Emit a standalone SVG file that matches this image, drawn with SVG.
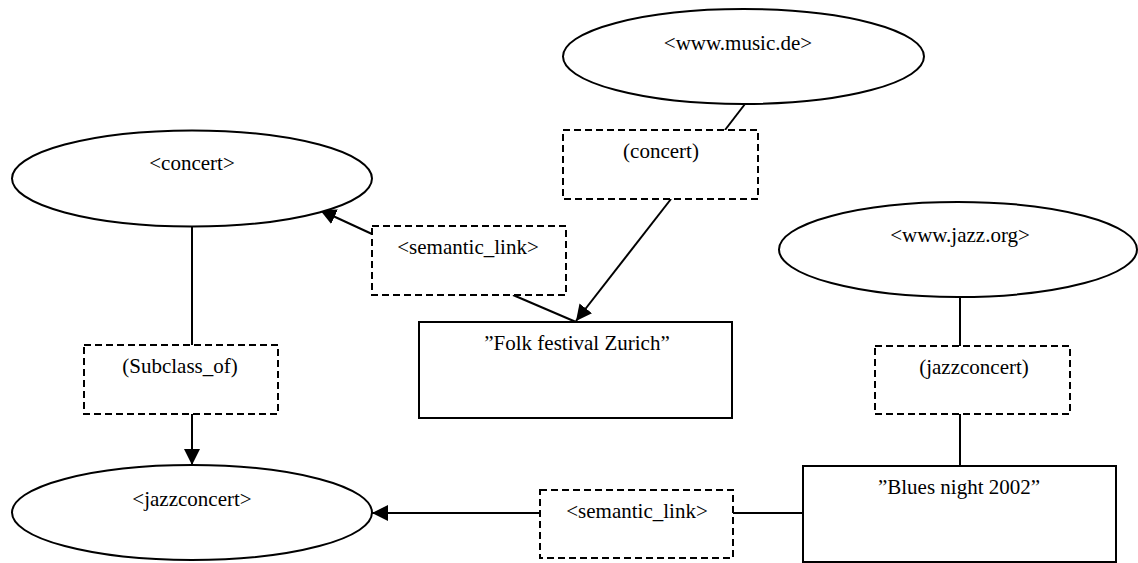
<svg xmlns="http://www.w3.org/2000/svg" width="1138" height="563" viewBox="0 0 1138 563">
  <style>
    text { font-family: "Liberation Serif", "Times New Roman", Times, serif; font-size: 21px; fill: #000; text-anchor: middle; }
    .res { fill: #fff; stroke: #000; stroke-width: 2; }
    .lit { fill: #fff; stroke: #000; stroke-width: 2; }
    .prop { fill: #fff; stroke: #000; stroke-width: 2; stroke-dasharray: 7 4; }
    .edge { fill: none; stroke: #000; stroke-width: 2; }
  </style>
  <defs>
    <marker id="arrowBig" viewBox="0 0 10 10" refX="10" refY="5" markerWidth="16" markerHeight="16" markerUnits="userSpaceOnUse" orient="auto">
      <path d="M0,0 L10,5 L0,10 z" fill="#000"/>
    </marker>
  </defs>

  <!-- connectors -->
  <g id="connectors">
    <line class="edge" x1="192" y1="226" x2="192" y2="345"/>
    <line class="edge" x1="192" y1="414" x2="192" y2="465" marker-end="url(#arrowBig)"/>
    <line class="edge" x1="372" y1="234" x2="320" y2="210" marker-end="url(#arrowBig)"/>
    <line class="edge" x1="513" y1="295" x2="576" y2="322"/>
    <line class="edge" x1="745" y1="104" x2="725" y2="130"/>
    <line class="edge" x1="671" y1="199" x2="576" y2="321" marker-end="url(#arrowBig)"/>
    <line class="edge" x1="960" y1="297" x2="960" y2="346"/>
    <line class="edge" x1="960" y1="414" x2="960" y2="466"/>
    <line class="edge" x1="803" y1="513" x2="733" y2="513"/>
    <line class="edge" x1="540" y1="513" x2="372" y2="513" marker-end="url(#arrowBig)"/>
  </g>

  <!-- resources -->
  <g id="concert">
    <ellipse class="res" cx="192" cy="178.5" rx="180" ry="48"/>
    <text x="192" y="170">&lt;concert&gt;</text>
  </g>
  <g id="jazzconcert">
    <ellipse class="res" cx="192" cy="512.5" rx="180" ry="47.5"/>
    <text x="192" y="506">&lt;jazzconcert&gt;</text>
  </g>
  <g id="music-de">
    <ellipse class="res" cx="743.5" cy="56.5" rx="180.5" ry="47.5"/>
    <text x="738" y="50">&lt;www.music.de&gt;</text>
  </g>
  <g id="jazz-org">
    <ellipse class="res" cx="958" cy="249.5" rx="179" ry="47.5"/>
    <text x="960" y="242">&lt;www.jazz.org&gt;</text>
  </g>

  <!-- properties -->
  <g id="subclass-of">
    <rect class="prop" x="84" y="345" width="194" height="69"/>
    <text x="180" y="373">(Subclass_of)</text>
  </g>
  <g id="concert-prop">
    <rect class="prop" x="563" y="130" width="195" height="69"/>
    <text x="661" y="158">(concert)</text>
  </g>
  <g id="semantic-link-top">
    <rect class="prop" x="372" y="226" width="194" height="69"/>
    <text x="468" y="254">&lt;semantic_link&gt;</text>
  </g>
  <g id="jazzconcert-prop">
    <rect class="prop" x="875" y="346" width="195" height="68"/>
    <text x="974" y="374">(jazzconcert)</text>
  </g>
  <g id="semantic-link-bottom">
    <rect class="prop" x="540" y="490" width="193" height="68"/>
    <text x="637" y="518">&lt;semantic_link&gt;</text>
  </g>

  <!-- literals -->
  <g id="folk-festival">
    <rect class="lit" x="419" y="322" width="313" height="96"/>
    <text x="577" y="350">”Folk festival Zurich”</text>
  </g>
  <g id="blues-night">
    <rect class="lit" x="803" y="466" width="313" height="96"/>
    <text x="959" y="494">”Blues night 2002”</text>
  </g>
</svg>
